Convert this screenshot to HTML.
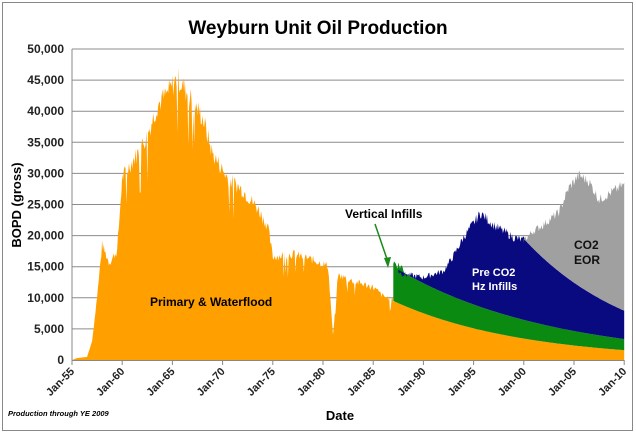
<!DOCTYPE html>
<html><head><meta charset="utf-8"><style>
body{margin:0;background:#fff;width:636px;height:434px;overflow:hidden}
svg text{font-family:"Liberation Sans",Arial,sans-serif}
</style></head><body>
<svg id="s" width="636" height="434" xmlns="http://www.w3.org/2000/svg">
<rect x="2.5" y="2.5" width="630" height="428" fill="#fff" stroke="#888" stroke-width="1"/>
<text x="318" y="34" text-anchor="middle" font-size="19" font-weight="bold">Weyburn Unit Oil Production</text>
<g id="grid" stroke="#8c8c8c" stroke-width="1"></g>
<g id="series"></g>
<line x1="72" y1="49" x2="72" y2="360" stroke="#888"/>
<line x1="72" y1="360.5" x2="624" y2="360.5" stroke="#888"/>
<g id="labels" font-size="12" font-weight="bold" fill="#222"></g>
<text transform="translate(21,205) rotate(-90)" text-anchor="middle" font-size="13" font-weight="bold">BOPD (gross)</text>
<text x="340" y="420" text-anchor="middle" font-size="13" font-weight="bold">Date</text>
<text x="8" y="416" font-size="7.5" font-weight="bold" font-style="italic">Production through YE 2009</text>
<text x="150" y="306" font-size="12" font-weight="bold">Primary &amp; Waterflood</text>
<text x="345" y="218" font-size="12" font-weight="bold">Vertical Infills</text>
<line x1="375" y1="224" x2="388" y2="262" stroke="#1a8a1a" stroke-width="1.5"/>
<polygon points="388,268 384,258 391,257" fill="#1a8a1a"/>
<text x="472" y="276" font-size="11" font-weight="bold" fill="#fff">Pre CO2</text>
<text x="472" y="290" font-size="11" font-weight="bold" fill="#fff">Hz Infills</text>
<text x="574" y="249" font-size="12" font-weight="bold" fill="#111">CO2</text>
<text x="574" y="264" font-size="12" font-weight="bold" fill="#111">EOR</text>
</svg>
<script>
const X=y=>72+(y-1955)*10.04, Y=v=>360-v*0.00622;
let seed=7;const rnd=()=>{seed=(seed*9301+49297)%233280;return seed/233280;};
const ns="http://www.w3.org/2000/svg";
const g=document.getElementById('grid'),L=document.getElementById('labels');
for(let v=0;v<=50000;v+=5000){const y=Y(v);
 if(v>0){const l=document.createElementNS(ns,'line');l.setAttribute('x1',72);l.setAttribute('x2',624);l.setAttribute('y1',y);l.setAttribute('y2',y);g.appendChild(l);}
 const t=document.createElementNS(ns,'text');t.setAttribute('x',64);t.setAttribute('y',y+4);t.setAttribute('text-anchor','end');t.textContent=v.toLocaleString('en-US');L.appendChild(t);}
const yrs=['55','60','65','70','75','80','85','90','95','00','05','10'];
yrs.forEach((s,i)=>{const x=X(1955+5*i);
 const l=document.createElementNS(ns,'line');l.setAttribute('x1',x);l.setAttribute('x2',x);l.setAttribute('y1',360);l.setAttribute('y2',365);l.setAttribute('stroke','#888');g.appendChild(l);
 const t=document.createElementNS(ns,'text');t.setAttribute('transform',`translate(${x+3},${372}) rotate(-45)`);t.setAttribute('text-anchor','end');t.setAttribute('font-size','11');t.textContent='Jan-'+s;L.appendChild(t);});
function interp(k,t){for(let i=0;i<k.length-1;i++){if(t>=k[i][0]&&t<=k[i+1][0]){const f=(t-k[i][0])/(k[i+1][0]-k[i][0]);return k[i][1]+f*(k[i+1][1]-k[i][1]);}}return k[k.length-1][1];}
const prim=[[1955,0],[1955.5,300],[1956.5,500],[1957,3000],[1957.6,12000],[1958,19000],[1958.7,16000],[1959.5,18000],[1960,30000],[1960.7,32000],[1961.5,34000],[1962.5,37000],[1963.5,42000],[1964.5,44000],[1965.5,46500],[1966.5,44000],[1968,40000],[1969,34000],[1970.5,30000],[1972,28000],[1973.5,25000],[1974.5,22000],[1975,17000],[1977,17500],[1979,16500],[1980.5,15500],[1981,4000],[1981.5,14000],[1983,13000],[1985,12000],[1986,10500],[1987,10000]];
const base=t=>9500*Math.exp(-(t-1987)*0.078);
const green=t=>15000*Math.exp(-(t-1987)*0.065);
const blueK=[[1987,15000],[1988,14000],[1990,13500],[1992,14500],[1993,17000],[1994,20000],[1995.7,24000],[1997,22000],[1999,20000],[2000,19500]];
const grayLow=t=>19500*Math.exp(-(t-2000)*0.09);
const grayTop=[[2000,19500],[2001,21000],[2002,22000],[2003.5,24000],[2004.5,28000],[2005.5,30000],[2006.5,29000],[2007.5,26000],[2008.5,27000],[2010,28500]];
function poly(pts,fill){const p=document.createElementNS(ns,'polygon');p.setAttribute('points',pts.map(a=>a[0].toFixed(1)+','+a[1].toFixed(1)).join(' '));p.setAttribute('fill',fill);document.getElementById('series').appendChild(p);}
const step=1/12;
let o=[[X(1955),Y(0)]];
for(let t=1955;t<=2010;t+=step){let v;
 if(t<1987){v=interp(prim,t);if(t>1957)v*=0.93+rnd()*0.09;if(t>1957&&rnd()<0.05)v*=0.82;}else v=base(t);
 o.push([X(t),Y(v)]);}
o.push([X(2010),Y(0)]);poly(o,'#ff9f00');
let gt=[],gb=[];
for(let t=1987;t<=2010;t+=step){let v=green(t);if(t<1988)v+=rnd()*1500;gt.push([X(t),Y(v)]);gb.unshift([X(t),Y(base(t))]);}
poly(gt.concat(gb),'#0a8a10');
let bt=[],bb=[];
for(let t=1987.5;t<=2010.01;t+=step){let v=t<2000?interp(blueK,t)*(0.95+rnd()*0.07):grayLow(t);
 bt.push([X(t),Y(v)]);bb.unshift([X(t),Y(green(t))]);}
poly(bt.concat(bb),'#0a0a80');
let rt=[],rb=[];
for(let t=2000;t<=2010.01;t+=step){rt.push([X(t),Y(interp(grayTop,t)*(0.96+rnd()*0.06))]);rb.unshift([X(t),Y(grayLow(t))]);}
poly(rt.concat(rb),'#a0a0a0');
</script>
</body></html>
